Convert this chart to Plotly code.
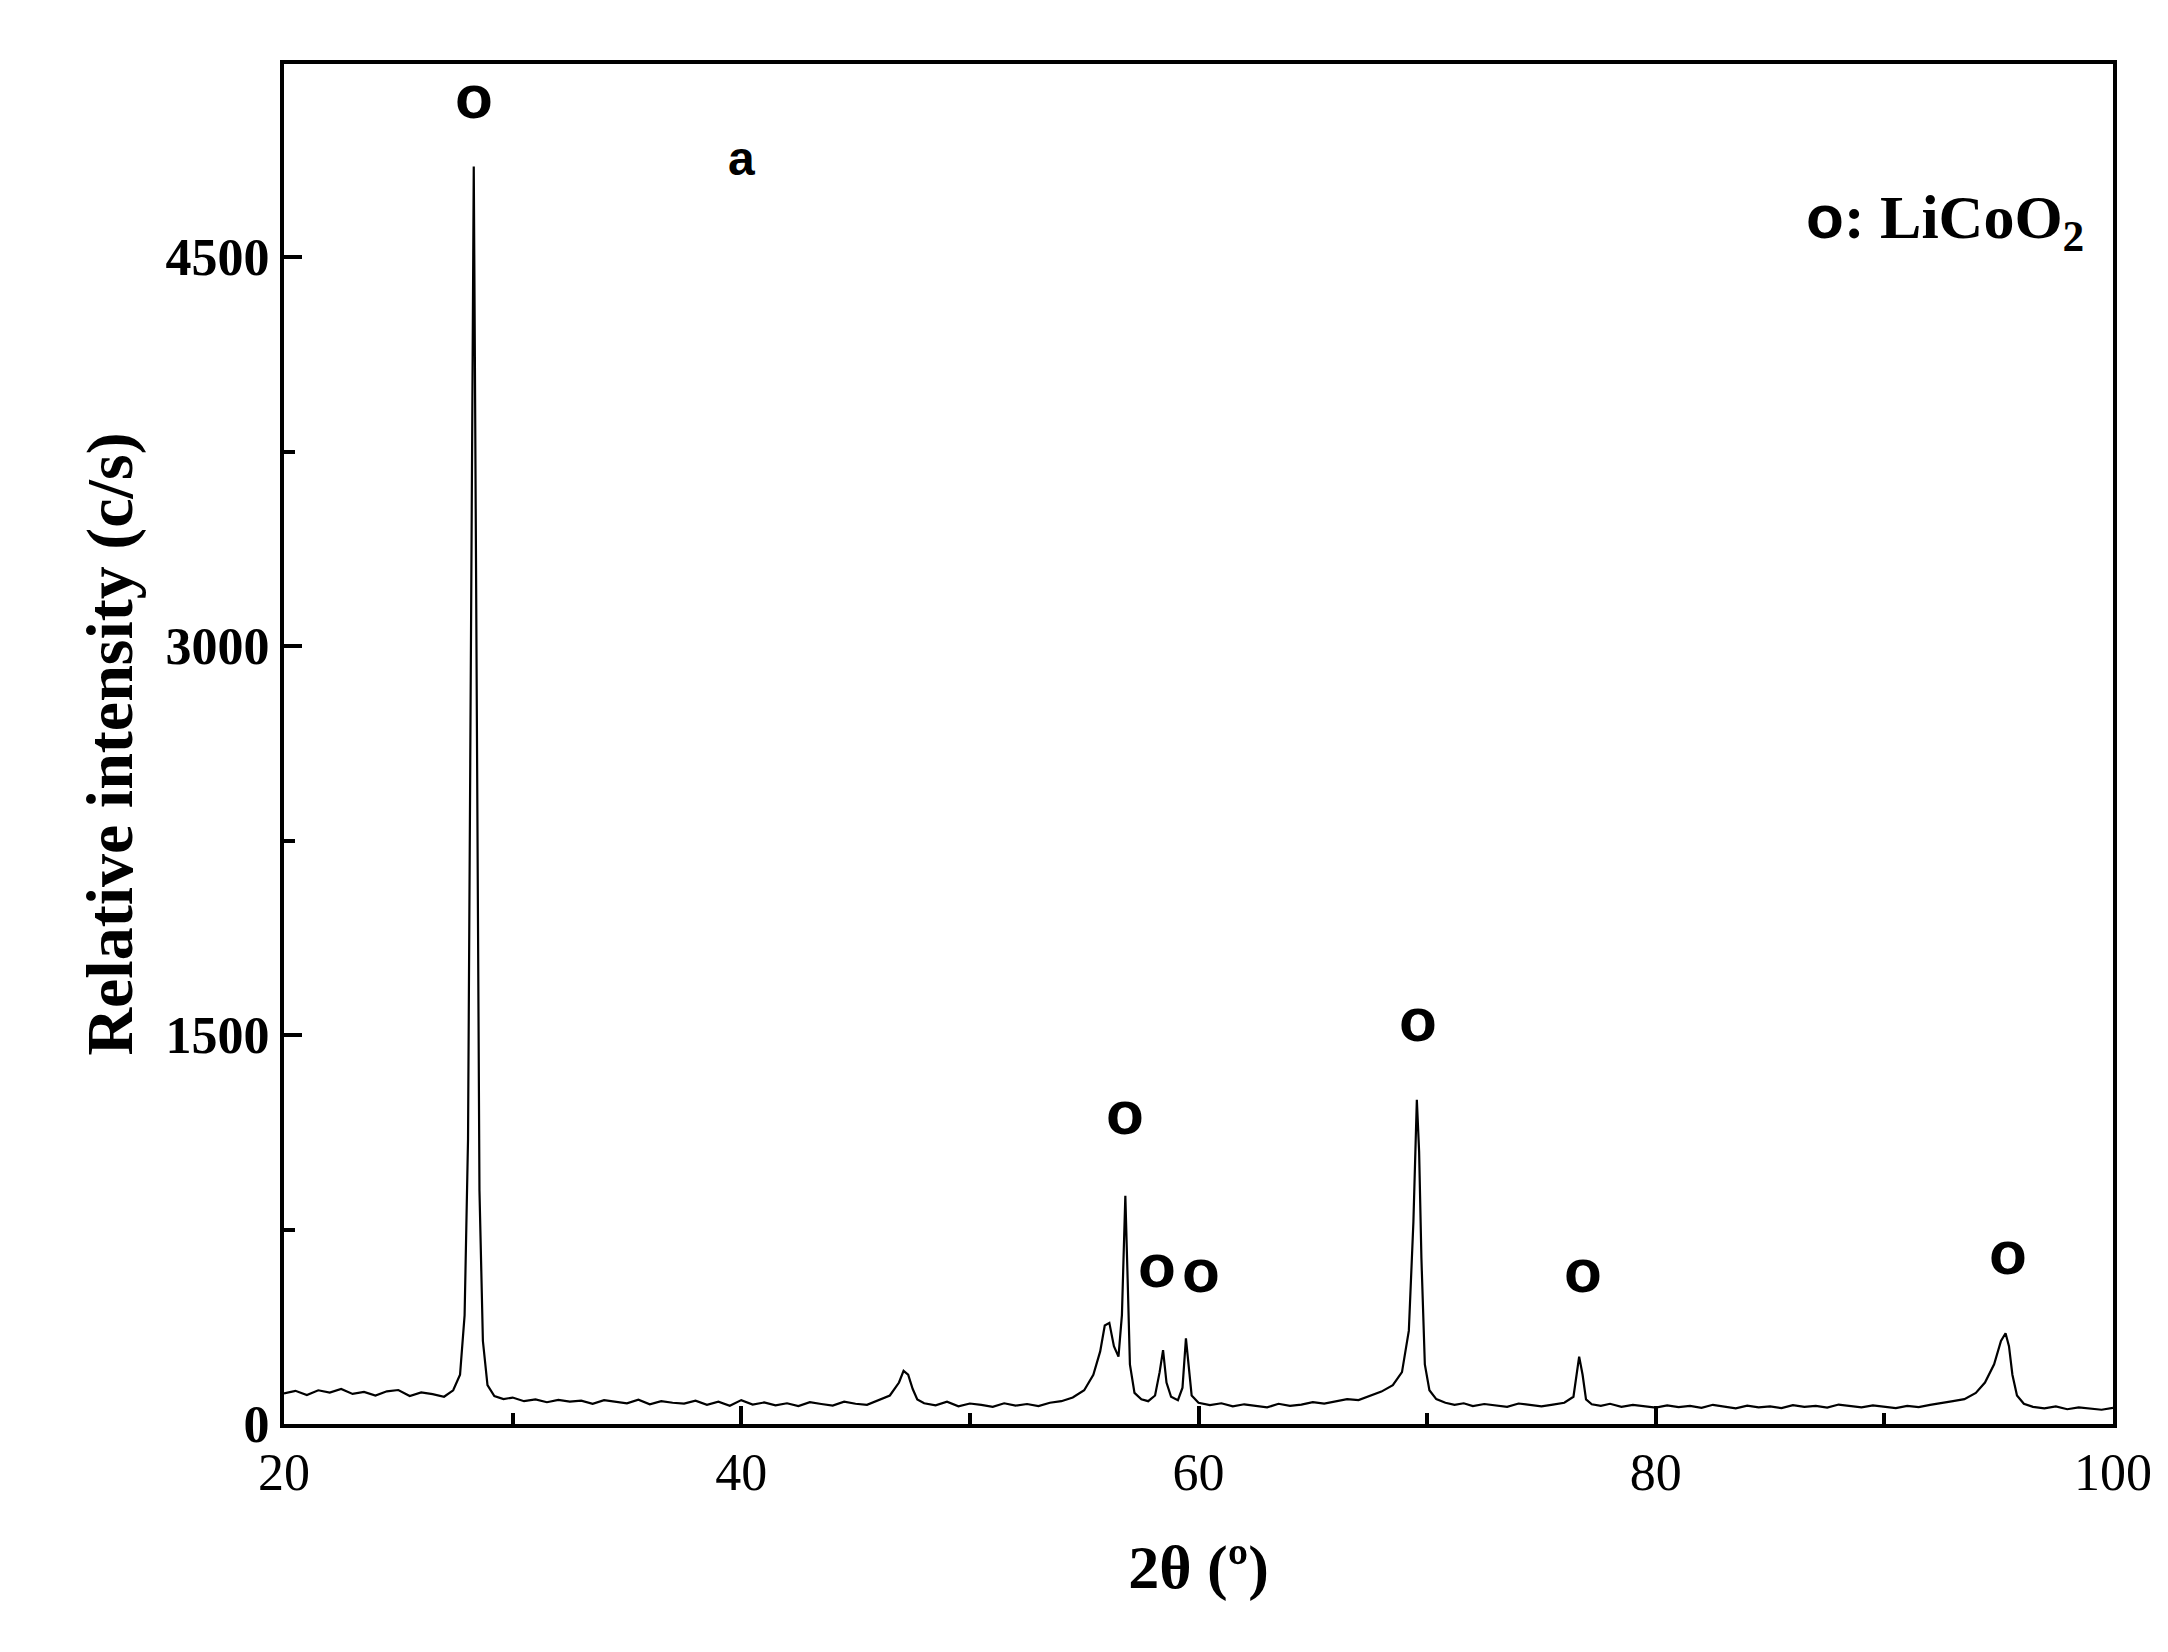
import plotly.graph_objects as go

# XRD pattern (2theta in degrees, intensity in c/s)
two_theta = [20.0, 20.5, 21.0, 21.5, 22.0, 22.5, 23.0, 23.5, 24.0, 24.5, 25.0, 25.5, 26.0, 26.5, 27.0,
             27.4, 27.7, 27.9, 28.05, 28.15, 28.25, 28.3, 28.35, 28.45, 28.55, 28.7, 28.9, 29.2, 29.6,
             30.0, 30.5, 31.0, 31.5, 32.0, 32.5, 33.0, 33.5, 34.0, 34.5, 35.0, 35.5, 36.0, 36.5, 37.0,
             37.5, 38.0, 38.5, 39.0, 39.5, 40.0, 40.5, 41.0, 41.5, 42.0, 42.5, 43.0, 43.5, 44.0, 44.5,
             45.0, 45.5, 46.0, 46.5, 46.9, 47.1, 47.3, 47.5, 47.7, 48.0, 48.5, 49.0, 49.5, 50.0, 50.5,
             51.0, 51.5, 52.0, 52.5, 53.0, 53.5, 54.0, 54.5, 55.0, 55.4, 55.7, 55.9, 56.1, 56.3, 56.5,
             56.65, 56.8, 56.9, 57.0, 57.2, 57.5, 57.8, 58.1, 58.3, 58.45, 58.6, 58.8, 59.1, 59.3, 59.45,
             59.55, 59.7, 60.0, 60.5, 61.0, 61.5, 62.0, 62.5, 63.0, 63.5, 64.0, 64.5, 65.0, 65.5, 66.0,
             66.5, 67.0, 67.5, 68.0, 68.5, 68.9, 69.2, 69.4, 69.55, 69.65, 69.75, 69.9, 70.1, 70.4, 70.8,
             71.2, 71.6, 72.0, 72.5, 73.0, 73.5, 74.0, 74.5, 75.0, 75.5, 76.0, 76.4, 76.65, 76.8, 76.95,
             77.2, 77.6, 78.0, 78.5, 79.0, 79.5, 80.0, 80.5, 81.0, 81.5, 82.0, 82.5, 83.0, 83.5, 84.0,
             84.5, 85.0, 85.5, 86.0, 86.5, 87.0, 87.5, 88.0, 88.5, 89.0, 89.5, 90.0, 90.5, 91.0, 91.5,
             92.0, 92.5, 93.0, 93.5, 94.0, 94.4, 94.8, 95.1, 95.3, 95.45, 95.6, 95.8, 96.1, 96.5, 97.0,
             97.5, 98.0, 98.5, 99.0, 99.5, 100.0]
intensity = [118, 128, 112, 130, 121, 135, 116, 124, 110, 126, 131, 108, 122, 115, 105,
             130, 190, 420, 1100, 2600, 4300, 4850, 4100, 2200, 900, 320, 150, 108, 96,
             102, 88, 95, 84, 93, 86, 90, 78, 92, 85, 80, 94, 76, 88, 82,
             79, 90, 74, 86, 70, 92, 75, 83, 72, 80, 69, 84, 77, 71, 86,
             78, 74, 92, 110, 160, 205, 190, 135, 95, 80, 72, 86, 68, 79, 74,
             66, 80, 71, 77, 69, 82, 88, 102, 130, 190, 280, 380, 390, 300, 260,
             420, 880, 560, 230, 120, 95, 88, 110, 200, 285, 160, 105, 92, 140, 330,
             250, 110, 82, 73, 80, 68, 76, 71, 64, 78, 70, 75, 84, 79, 88,
             96, 92, 108, 125, 150, 200, 360, 780, 1250, 1050, 640, 230, 130, 96, 82,
             74, 80, 69, 77, 71, 66, 79, 73, 68, 75, 82, 105, 260, 190, 95,
             76, 70, 78, 66, 74, 69, 63, 72, 65, 70, 62, 74, 67, 60, 71,
             64, 68, 61, 73, 66, 70, 63, 75, 69, 64, 72, 66, 61, 70, 65,
             74, 80, 88, 96, 120, 160, 230, 320, 350, 300, 190, 110, 78, 66, 60,
             68, 57, 64, 59, 55, 62]

# phase markers "o" (position, label height)
mark_x = [28.3, 56.8, 58.2, 60.1, 69.6, 76.8, 95.4]
mark_y = [4980, 1060, 470, 450, 1420, 450, 520]

x_ticks = [20, 40, 60, 80, 100]
y_ticks = [0, 1500, 3000, 4500]

serif = "Liberation Serif"
sans = "Liberation Sans"

fig = go.Figure()
fig.add_trace(go.Scatter(x=two_theta, y=intensity, mode='lines',
                         line=dict(color='black', width=2.2), showlegend=False))

for mx, my in zip(mark_x, mark_y):
    fig.add_annotation(x=mx, y=my, text="<b>o</b>", showarrow=False,
                       font=dict(family=sans, size=62, color='black'), yanchor='bottom')

fig.add_annotation(x=40, y=4880, text="<b>a</b>", showarrow=False,
                   font=dict(family=sans, size=48, color='black'))
fig.add_annotation(x=0.985, y=0.915, xref='paper', yref='paper', xanchor='right',
                   text="<b><span style='font-family:Liberation Sans'>o</span>: LiCoO<sub>2</sub></b>",
                   showarrow=False, font=dict(family=serif, size=62, color='black'))

axis_common = dict(showline=True, linecolor='black', linewidth=4, mirror=True,
                   ticks='inside', ticklen=18, tickwidth=4, tickcolor='black',
                   showgrid=False, zeroline=False)

fig.update_xaxes(range=[20, 100], tickvals=x_ticks,
                 tickfont=dict(family=serif, size=52, color='black'),
                 minor=dict(ticks='inside', ticklen=11, tickwidth=4, dtick=10, tick0=20, tickcolor='black'),
                 title=dict(text="<b>2θ (º)</b>", font=dict(family=serif, size=62, color='black'), standoff=45),
                 **axis_common)
fig.update_yaxes(range=[0, 5245], tickvals=y_ticks,
                 tickfont=dict(family=serif, size=52, color='black', weight='bold'),
                 minor=dict(ticks='inside', ticklen=11, tickwidth=4, dtick=750, tick0=0, tickcolor='black'),
                 title=dict(text="<b>Relative intensity (c/s)</b>", font=dict(family=serif, size=66, color='black'), standoff=12),
                 **axis_common)

fig.update_layout(width=2168, height=1652, margin=dict(l=276, r=63, t=56, b=236),
                  paper_bgcolor='white', plot_bgcolor='white')

fig.write_html("out.html")
